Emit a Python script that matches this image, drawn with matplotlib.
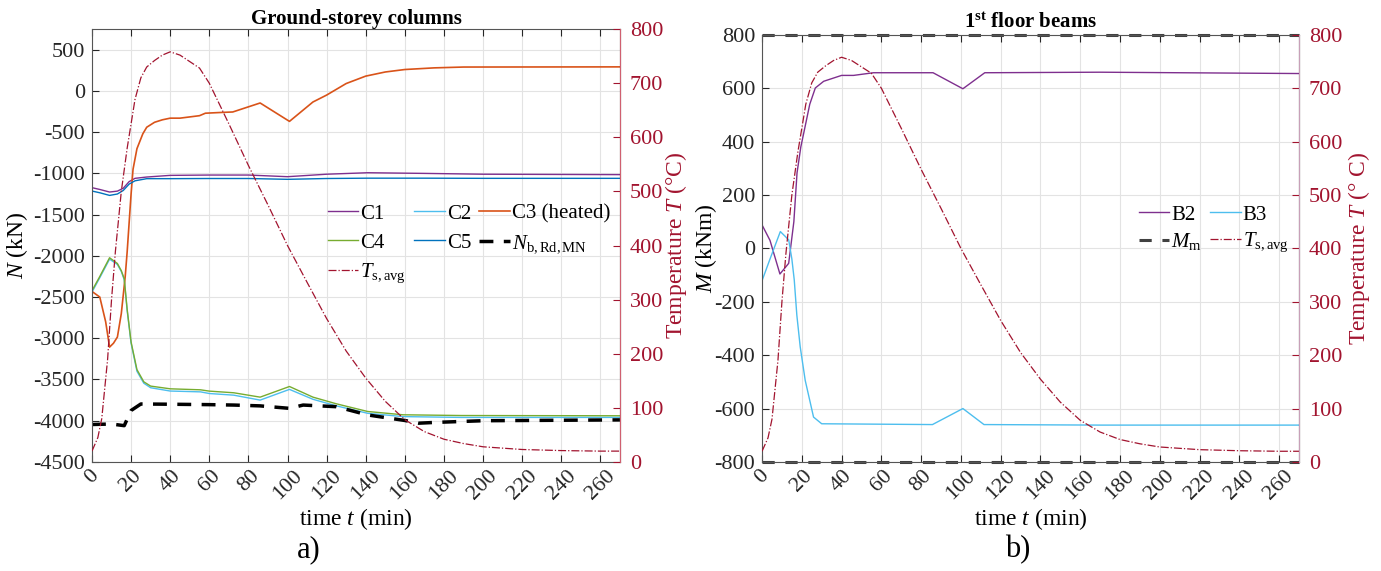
import numpy as np
import matplotlib.pyplot as plt
import matplotlib

matplotlib.rcParams.update({'font.size': 15,
                            'font.family': 'Liberation Serif',
                            'mathtext.fontset': 'custom',
                            'mathtext.rm': 'Liberation Serif',
                            'mathtext.it': 'Liberation Serif:italic',
                            'mathtext.bf': 'Liberation Serif:bold',
                            'axes.unicode_minus': False})

# average slab temperature (same for both panels)
t_T = [0, 3, 5, 8, 10, 12, 15, 18, 20, 22, 25, 28, 32, 36, 40, 45, 50, 55, 60, 70, 80, 90,
       100, 110, 120, 130, 140, 150, 160, 170, 180, 190, 200, 220, 240, 260, 270]
T_avg = [20, 45, 80, 190, 300, 390, 500, 580, 625, 670, 710, 730, 742, 752, 758, 752, 740, 728, 700, 625, 548, 475,
         400, 332, 265, 205, 155, 112, 78, 56, 42, 34, 28, 23, 21, 20, 20]

# a) ground-storey columns, N (kN)
t_C1 = [0, 4, 9, 13, 16, 19, 22, 28, 40, 60, 80, 100, 120, 141, 170, 200, 270]
N_C1 = [-1173, -1195, -1226, -1215, -1180, -1100, -1060, -1044, -1024, -1020, -1020, -1040, -1010, -992, -1000, -1010, -1015]

t_C5 = [0, 4, 9, 13, 16, 19, 22, 28, 40, 60, 80, 100, 120, 141, 170, 200, 270]
N_C5 = [-1214, -1235, -1267, -1250, -1207, -1130, -1090, -1064, -1064, -1062, -1062, -1072, -1062, -1058, -1058, -1060, -1060]

t_C3 = [0, 4, 7, 9, 11, 13, 15, 17, 18, 20, 21, 23, 26, 28, 32, 36, 40, 45, 50, 55, 58, 65, 72, 86, 101, 113,
        120, 125, 130, 140, 150, 160, 175, 190, 270]
N_C3 = [-2432, -2500, -2800, -3107, -3060, -2985, -2700, -2250, -1950, -1250, -950, -700, -520, -440, -380, -350, -330,
        -330, -315, -300, -270, -262, -255, -146, -369, -134, -50, 20, 90, 180, 230, 260, 280, 290, 292]

t_C4 = [0, 4, 9, 13, 15, 16.5, 18, 20, 23, 26.5, 30, 40, 55.5, 60, 72.5, 86, 101, 113, 125, 141, 159, 189, 270]
N_C4 = [-2423, -2250, -2023, -2093, -2180, -2278, -2650, -3045, -3380, -3528, -3580, -3613, -3625, -3641, -3661,
        -3714, -3585, -3714, -3795, -3888, -3928, -3937, -3940]

t_C2 = [0, 4, 9, 13, 15, 16.5, 18, 20, 23, 26.5, 30, 40, 55.5, 60, 72.5, 86, 101, 113, 125, 141, 159, 189, 270]
N_C2 = [-2440, -2265, -2040, -2105, -2190, -2290, -2665, -3060, -3400, -3545, -3600, -3640, -3650, -3670, -3690,
        -3750, -3620, -3740, -3820, -3910, -3950, -3960, -3960]

t_Nb = [0, 10, 16.5, 20, 25, 40, 60, 72.5, 86, 101, 108, 125, 141, 160, 167, 176, 200, 270]
N_Nb = [-4046, -4040, -4060, -3876, -3797, -3800, -3805, -3810, -3820, -3850, -3810, -3830, -3930, -3997, -4030,
        -4020, -4000, -3990]

# b) 1st floor beams, M (kNm)
t_B2 = [0, 4, 9, 13.4, 16, 17.6, 19.5, 21, 24, 26.8, 31, 40, 46, 56, 86, 101, 112, 170, 270]
M_B2 = [88, 30, -96, -56, 100, 283, 380, 433, 540, 601, 626, 648, 648, 658, 658, 598, 658, 660, 655]

t_B3 = [0, 4, 9.2, 13.4, 15, 16.2, 17.5, 19.2, 21.7, 25.9, 30, 85.7, 101, 111.6, 170, 270]
M_B3 = [-121, -40, 63, 32, -40, -118, -250, -369, -494, -632, -657, -660, -600, -660, -662, -662]

t_Mm = [0, 270]
M_m_pos = [800, 800]
M_m_neg = [-800, -800]

t_ticks = np.arange(0, 261, 20)

c_purple = '#7E2F8E'
c_lblue = '#4DBEEE'
c_orange = '#D95319'
c_green = '#77AC30'
c_blue = '#0072BD'
c_red = '#A2142F'

tick_fs = 16
label_fs = 17


def style_axes(ax, ax2, yticks, ylim, spine_col):
    ax.set_xlim(0, 270)
    ax.set_ylim(*ylim)
    ax.set_yticks(yticks)
    ax.set_xticks(t_ticks)
    ax.set_xticklabels([str(v) for v in t_ticks], rotation=45, ha='center')
    ax.grid(color='#E3E3E3', linewidth=0.8)
    ax.set_axisbelow(True)
    ax.tick_params(direction='in', length=5, top=True, colors='#262626', labelsize=tick_fs, width=0.8)
    ax.tick_params(axis='x', pad=3)
    ax.tick_params(axis='y', pad=5)
    for s in ['left', 'bottom', 'top']:
        ax.spines[s].set_color('#555555')
    ax2.set_ylim(0, 800)
    ax2.set_yticks(np.arange(0, 801, 100))
    ax2.tick_params(direction='in', length=5, colors=c_red, labelsize=tick_fs, width=0.8, pad=7)
    ax2.spines['right'].set_color(spine_col)
    for s in ['left', 'bottom', 'top']:
        ax2.spines[s].set_visible(False)


fig = plt.figure(figsize=(13.81, 5.71), dpi=100)

# ---------- a) columns ----------
ax1 = fig.add_axes([0.0666, 0.191, 0.3823, 0.758])
ax1b = ax1.twinx()
l_c1, = ax1.plot(t_C1, N_C1, color=c_purple, lw=1.0, label='C1')
l_c2, = ax1.plot(t_C2, N_C2, color=c_lblue, lw=1.0, label='C2')
l_c3, = ax1.plot(t_C3, N_C3, color=c_orange, lw=1.2, label='C3 (heated)')
l_c4, = ax1.plot(t_C4, N_C4, color=c_green, lw=1.0, label='C4')
l_c5, = ax1.plot(t_C5, N_C5, color=c_blue, lw=1.0, label='C5')
l_nb, = ax1.plot(t_Nb, N_Nb, color='k', lw=2.5, linestyle=(0, (4, 3)), label=r'$N_{\mathrm{b,Rd,MN}}$')
l_t1, = ax1b.plot(t_T, T_avg, color=c_red, lw=0.9, linestyle='-.', label=r'$T_{\mathrm{s,avg}}$')
style_axes(ax1, ax1b, np.arange(-4500, 501, 500), (-4500, 750), '#D06070')
ax1.set_title('Ground-storey columns', fontweight='bold', fontsize=15, pad=3)
ax1.set_xlabel('time $t$ (min)', fontsize=label_fs, labelpad=2)
ax1.set_ylabel('$N$ (kN)', fontsize=label_fs, labelpad=2)
ax1b.set_ylabel('Temperature $T$ (°C)', color=c_red, fontsize=label_fs, labelpad=0)
ax1b.legend(handles=[l_c1, l_c4, l_t1, l_c2, l_c5, l_c3, l_nb], ncol=3, frameon=False,
            loc='upper left', bbox_to_anchor=(328 / 1381, 1 - 204 / 571), bbox_transform=fig.transFigure,
            borderaxespad=0, borderpad=0, handlelength=1.45, handletextpad=0.1, columnspacing=0.4,
            labelspacing=0.45, fontsize=15)

# ---------- b) beams ----------
ax2 = fig.add_axes([0.5518, 0.191, 0.3888, 0.748])
ax2b = ax2.twinx()
l_b2, = ax2.plot(t_B2, M_B2, color=c_purple, lw=1.0, label='B2')
l_b3, = ax2.plot(t_B3, M_B3, color=c_lblue, lw=1.0, label='B3')
l_mm, = ax2.plot(t_Mm, M_m_pos, color='#404040', lw=2.2, linestyle=(0, (4, 3.5)), clip_on=False,
                 label=r'$M_{\mathrm{m}}$')
ax2.plot(t_Mm, M_m_neg, color='#404040', lw=2.2, linestyle=(0, (4, 3.5)), clip_on=False)
l_t2, = ax2b.plot(t_T, T_avg, color=c_red, lw=0.9, linestyle='-.', label=r'$T_{\mathrm{s,avg}}$')
style_axes(ax2, ax2b, np.arange(-800, 801, 200), (-800, 800), '#C8A0B8')
ax2.set_title(r'1$^{\mathbf{st}}$ floor beams', fontweight='bold', fontsize=15, pad=5)
ax2.set_xlabel('time $t$ (min)', fontsize=label_fs, labelpad=2)
ax2.set_ylabel('$M$ (kNm)', fontsize=label_fs, labelpad=-3)
ax2b.set_ylabel('Temperature $T$ (° C)', color=c_red, fontsize=label_fs, labelpad=3)
ax2b.legend(handles=[l_b2, l_mm, l_b3, l_t2], ncol=2, frameon=False,
            loc='upper left', bbox_to_anchor=(1139 / 1381, 1 - 205 / 571), bbox_transform=fig.transFigure,
            borderaxespad=0, borderpad=0, handlelength=1.45, handletextpad=0.1, columnspacing=0.4,
            labelspacing=0.3, fontsize=15)

fig.text(0.215, 0.025, 'a)', fontsize=22)
fig.text(0.728, 0.025, 'b)', fontsize=22)

fig.savefig('out.png', dpi=100)
